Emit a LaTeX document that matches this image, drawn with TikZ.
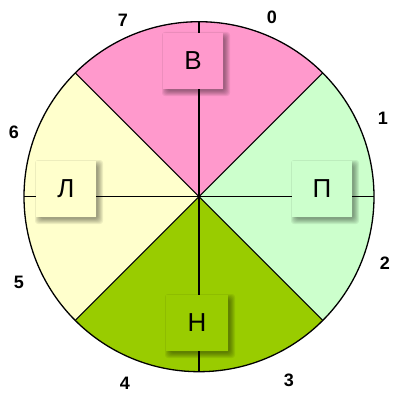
\documentclass[tikz,border=0pt]{standalone}
\usepackage{fontspec}
\setmainfont{Liberation Sans}
\definecolor{cpink}{HTML}{FF99CC}
\definecolor{clgreen}{HTML}{CCFFCC}
\definecolor{cyellow}{HTML}{FFFFCC}
\definecolor{cgreen}{HTML}{99CC00}
\tikzset{
  spoke/.style={draw=black, line width=1.1pt},
  rim/.style={draw=black, line width=1.3pt},
  letterbox/.style={minimum width=60pt, minimum height=56pt, inner sep=0pt,
    font=\fontsize{26}{26}\selectfont},
  softshadow/.style={fill=black, fill opacity=0.07, rounded corners=3pt},
  num/.style={font=\fontsize{18}{18}\selectfont\bfseries, inner sep=0pt}
}
\newcommand\boxshadow[4]{% cx, cy, halfw, halfh
  \foreach \e in {-1,0,1,2,3,4} {
    \fill[softshadow] ({#1-#3+3-\e},{#2-#4-3-\e}) rectangle ({#1+#3+3+\e},{#2+#4-3+\e});
  }
}
\begin{document}
\begin{tikzpicture}[x=1pt,y=1pt]
\useasboundingbox (0,0) rectangle (394,392);
\coordinate (c) at (199,195.3);
\def\R{175}
\fill[cpink] (c) -- ++(45:\R) arc[start angle=45, end angle=135, radius=\R] -- cycle;
\fill[clgreen] (c) -- ++(-45:\R) arc[start angle=-45, end angle=45, radius=\R] -- cycle;
\fill[cgreen] (c) -- ++(-135:\R) arc[start angle=-135, end angle=-45, radius=\R] -- cycle;
\fill[cyellow] (c) -- ++(135:\R) arc[start angle=135, end angle=225, radius=\R] -- cycle;
\foreach \a in {0,45,...,315} {
  \draw[spoke] (c) -- ++(\a:\R);
}
\draw[rim] (c) circle[radius=\R];
\boxshadow{193}{331}{30}{28}
\boxshadow{322}{203}{30}{28}
\boxshadow{66}{203}{30}{28}
\boxshadow{197}{69}{31}{28}
\node[letterbox, fill=cpink] (V) at (193,331) {В};
\node[letterbox, fill=clgreen] (P) at (322,203) {П};
\node[letterbox, fill=cyellow] (L) at (66,203) {Л};
\node[letterbox, fill=cgreen, minimum width=62pt] (N) at (197,69) {Н};
\node[num] (n7) at (123,372) {7};
\node[num] (n0) at (272,375) {0};
\node[num] (n1) at (383,274) {1};
\node[num] (n2) at (385,129) {2};
\node[num] (n3) at (289,12) {3};
\node[num] (n4) at (125,9) {4};
\node[num] (n5) at (19,110) {5};
\node[num] (n6) at (14,260) {6};
\end{tikzpicture}
\end{document}
